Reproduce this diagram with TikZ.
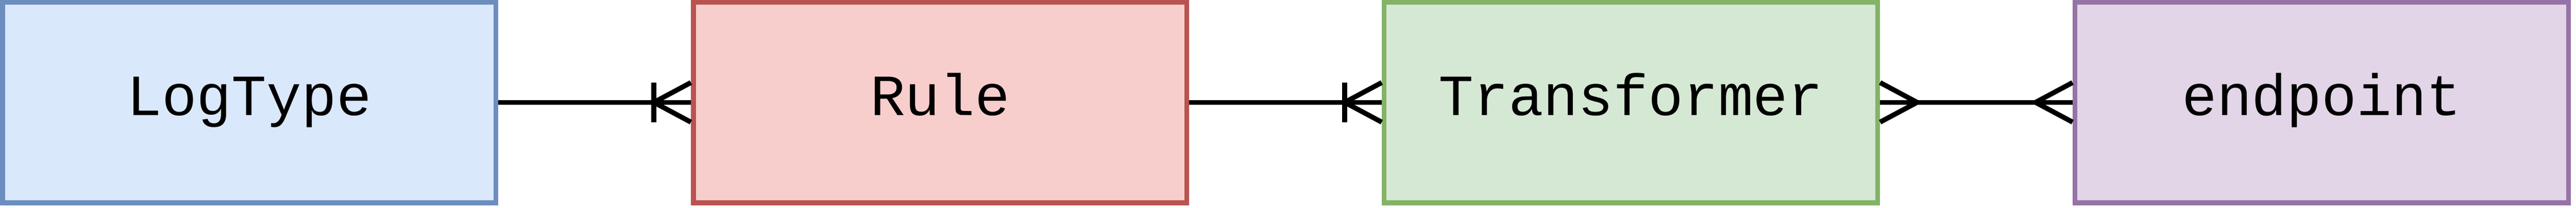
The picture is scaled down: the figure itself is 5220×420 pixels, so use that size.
\documentclass[tikz,border=0pt]{standalone}
\usepackage{fontspec}
\setmonofont{Liberation Mono}
\usepackage{xcolor}
\usetikzlibrary{positioning}
\definecolor{logfill}{HTML}{DAE8FC}
\definecolor{logline}{HTML}{6C8EBF}
\definecolor{rulefill}{HTML}{F8CECC}
\definecolor{ruleline}{HTML}{B85450}
\definecolor{transfill}{HTML}{D5E8D4}
\definecolor{transline}{HTML}{82B366}
\definecolor{endfill}{HTML}{E1D5E7}
\definecolor{endline}{HTML}{9673A6}
\tikzset{
  entity/.style = {draw, line width = 1pt, minimum width = 100pt, minimum height = 40.6pt,
                   inner sep = 0pt, text height = 8pt, text depth = 2.8pt,
                   font = \ttfamily\fontsize{11.8}{14}\selectfont},
  relation/.style = {draw, line width = 1pt, black}
}

\begin{document}
\begin{tikzpicture}[x = 0.1pt, y = 0.1pt, node distance = 39pt]%{{{
                \useasboundingbox (0, 0) rectangle (5220, 420);

                \node (LogType) [entity, fill = logfill, draw = logline] at (505, 213) { LogType };
                \node (Rule) [entity, fill = rulefill, draw = ruleline, right = of LogType] { Rule };
                \node (Transformer) [entity, fill = transfill, draw = transline, right = of Rule] { Transformer };
                \node (Endpoint) [entity, fill = endfill, draw = endline, right = of Transformer] { endpoint };

                \draw [relation] (LogType) -- (Rule);
                \draw [relation] (Rule) -- (Transformer);
                \draw [relation] (Transformer) -- (Endpoint);

                % one and many
                \draw [relation] ([xshift = -7.5pt, yshift = 4pt] Rule.west) -- ([xshift = -7.5pt, yshift = -4pt] Rule.west);
                \draw [relation] ([yshift = 4pt] Rule.west) -- ([xshift = -7.5pt] Rule.west) -- ([yshift = -4pt] Rule.west);
                \draw [relation] ([xshift = -7.5pt, yshift = 4pt] Transformer.west) -- ([xshift = -7.5pt, yshift = -4pt] Transformer.west);
                \draw [relation] ([yshift = 4pt] Transformer.west) -- ([xshift = -7.5pt] Transformer.west) -- ([yshift = -4pt] Transformer.west);

                % many and many
                \draw [relation] ([yshift = 4pt] Transformer.east) -- ([xshift = 7.5pt] Transformer.east) -- ([yshift = -4pt] Transformer.east);
                \draw [relation] ([yshift = 4pt] Endpoint.west) -- ([xshift = -7.5pt] Endpoint.west) -- ([yshift = -4pt] Endpoint.west);
            \end{tikzpicture}
\end{document}
